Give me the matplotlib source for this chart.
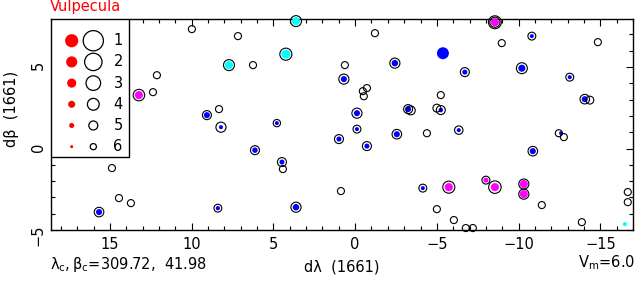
import numpy as np
import matplotlib
matplotlib.use("Agg")
import matplotlib.pyplot as plt
from matplotlib.patches import Rectangle
from matplotlib.ticker import MultipleLocator

plt.rcParams['font.family'] = ['DejaVu Sans']
plt.rcParams['mathtext.default'] = 'regular'

# star offsets from the constellation centre (degrees), modern V mag (open circle)
# and 1661 catalogue mag (filled dot); nan = not present
dl = [15.67, 14.88, 14.45, 13.72, 8.40, 9.99, 12.13, 13.23, 12.37, 3.62,
      7.17, 4.24, 7.72, 6.25, -1.21, 0.63, 0.69, -2.43, -0.47, -0.72,
      -0.53, 9.07, 8.33, 8.21, 4.79, -0.11, -0.11, 0.99, -2.55, -3.24,
      -3.40, -8.55, -8.55, -8.97, -10.81, -14.85, -5.37, -6.71, -10.20, -13.13,
      -14.05, -14.36, -5.24, -5.00, -5.24, -4.39, -6.34, -12.46, -12.60, -12.77,
      -10.87, -4.14, -5.73, -8.00, -8.55, -10.32, -10.32, -5.00, -6.04, -6.77,
      -7.20, -13.87, -11.42, -16.50, -16.68, -16.68, 6.13, 4.48, 4.42, -0.72,
      0.87, 3.62]
db = [-3.90, -1.20, -3.04, -3.35, -3.66, 7.33, 4.50, 3.28, 3.46, 7.82,
      6.90, 5.79, 5.12, 5.12, 7.08, 5.12, 4.26, 5.24, 3.52, 3.71,
      3.21, 2.05, 2.42, 1.31, 1.56, 2.17, 1.19, 0.58, 0.88, 2.42,
      2.34, 7.75, 7.75, 6.47, 6.90, 6.53, 5.85, 4.69, 4.93, 4.38,
      3.03, 2.97, 3.28, 2.48, 2.36, 0.94, 1.13, 0.94, 0.94, 0.70,
      -0.16, -2.43, -2.37, -1.94, -2.37, -2.18, -2.80, -3.72, -4.39, -4.88,
      -4.88, -4.52, -3.47, -4.64, -2.67, -3.29, -0.10, -0.83, -1.26, 0.15,
      -2.61, -3.60]
nan = np.nan
vmag = [4.8, 5.7, 5.7, 5.7, 5.4, 5.7, 5.7, 4.1, 5.7, 4.3,
        5.7, 3.9, 4.3, 5.7, 5.7, 5.7, 4.6, 4.6, 5.7, 5.7,
        5.7, 5.0, 5.7, 4.6, 5.6, 4.6, 5.4, 5.0, 4.8, 5.0,
        5.0, 3.6, 4.6, 5.7, 5.4, 5.7, nan, 5.0, 4.3, 5.4,
        4.8, 5.4, 5.7, 5.4, 5.0, 5.7, 5.2, 5.7, nan, 5.7,
        4.8, 5.4, 3.9, 5.4, 3.75, 4.6, 4.6, 5.7, 5.7, 5.7,
        5.7, 5.7, 5.7, nan, 5.7, 5.7, 5.0, 5.0, 5.7, 5.0,
        5.7, 4.6]
mag1661 = [4.5, nan, nan, nan, 5.4, nan, nan, 3.5, nan, 3.5,
           nan, 3.1, 3.5, nan, nan, nan, 4.5, 4.3, nan, nan,
           nan, 4.5, nan, 5.5, 5.5, 4.5, 5.5, 5.0, 4.5, 4.5,
           nan, 3.5, nan, nan, 5.5, nan, 1.6, 5.0, 4.0, 5.5,
           4.5, nan, nan, nan, 5.3, nan, 5.5, nan, 5.5, nan,
           4.5, 5.5, 3.5, 5.0, 3.5, 3.5, 3.5, nan, nan, nan,
           nan, nan, nan, 5.5, nan, nan, 4.8, 5.0, nan, 5.0,
           nan, 4.3]
group = ['b', '', '', '', 'b', '', '', 'm', '', 'c',
         '', 'c', 'c', '', '', '', 'b', 'b', '', '',
         '', 'b', '', 'b', 'b', 'b', 'b', 'b', 'b', 'b',
         '', 'm', '', '', 'b', '', 'b', 'b', 'b', 'b',
         'b', '', '', '', 'b', '', 'b', '', 'b', '',
         'b', 'b', 'm', 'm', 'm', 'm', 'm', '', '', '',
         '', '', '', 'c', '', '', 'b', 'b', '', 'b',
         '', 'b']
legend_mags = [1, 2, 3, 4, 5, 6]

colors = {'b': '#0000ff', 'c': '#00ffff', 'm': '#ff00ff'}
px = 0.72  # points per pixel at 100 dpi


def ring_size(m):
    return ((23 - 2.8 * np.asarray(m)) * px) ** 2


def dot_size(m):
    return ((15.2 - 2.03 * np.asarray(m)) * px) ** 2


dl = np.array(dl)
db = np.array(db)
vmag = np.array(vmag)
mag1661 = np.array(mag1661)
group = np.array(group)

fig = plt.figure(figsize=(6.36, 2.81), dpi=100)
ax = fig.add_axes([50.5 / 636, 51 / 281, 582.5 / 636, 211 / 281])

for g, c in colors.items():
    sel = (group == g) & ~np.isnan(mag1661)
    ax.scatter(dl[sel], db[sel], s=dot_size(mag1661[sel]), c=c,
               edgecolors='none', zorder=3, clip_on=False)
sel = ~np.isnan(vmag)
ax.scatter(dl[sel], db[sel], s=ring_size(vmag[sel]), facecolors='none',
           edgecolors='black', linewidths=0.8, zorder=4, clip_on=False)

ax.set_xlim(18.64, -17.0)
ax.set_ylim(-5.0, 7.95)
ax.xaxis.set_major_locator(MultipleLocator(5))
ax.xaxis.set_minor_locator(MultipleLocator(1))
ax.yaxis.set_major_locator(MultipleLocator(5))
ax.yaxis.set_minor_locator(MultipleLocator(1))
ax.tick_params(which='both', direction='in', top=True, right=True,
               width=0.8, labelsize=10.5)
ax.tick_params(which='major', length=5)
ax.tick_params(which='minor', length=2.8)
ax.tick_params(axis='y', labelrotation=90)
ax.tick_params(axis='x', pad=5)
for sp in ax.spines.values():
    sp.set_linewidth(1.0)

# magnitude key in the upper left corner
ax.add_patch(Rectangle((0, 0.346), 0.1353, 0.654, transform=ax.transAxes,
                       facecolor='white', edgecolor='black', linewidth=1.0,
                       zorder=5))
rows_y = np.linspace(0.897, 0.395, len(legend_mags))
ax.scatter(np.full(6, 0.0364), rows_y, s=dot_size(legend_mags), c='red',
           edgecolors='none', transform=ax.transAxes, zorder=6)
ax.scatter(np.full(6, 0.0735), rows_y, s=ring_size(legend_mags),
           facecolors='none', edgecolors='black', linewidths=0.9,
           transform=ax.transAxes, zorder=6)
for m, yy in zip(legend_mags, rows_y):
    ax.text(0.116, yy, str(m), transform=ax.transAxes, ha='center',
            va='center', fontsize=10.5, zorder=7)

fig.text(50 / 636, 1 - 7 / 281, 'Vulpecula', color='red', fontsize=10.5,
         ha='left', va='center')
fig.text(342 / 636, 1 - 267 / 281, 'd\u03bb  (1661)', fontsize=10.5,
         ha='center', va='center')
fig.text(12 / 636, 1 - 109 / 281, 'd\u03b2  (1661)', fontsize=10.5,
         rotation=90, ha='center', va='center')
fig.text(50 / 636, 1 - 264 / 281, r'$\lambda_c,\beta_c$=309.72,  41.98',
         fontsize=10.5, ha='left', va='center')
fig.text(635 / 636, 1 - 263 / 281, r'V$_m$=6.0', fontsize=10.5,
         ha='right', va='center')

fig.savefig('out.png', dpi=100)
